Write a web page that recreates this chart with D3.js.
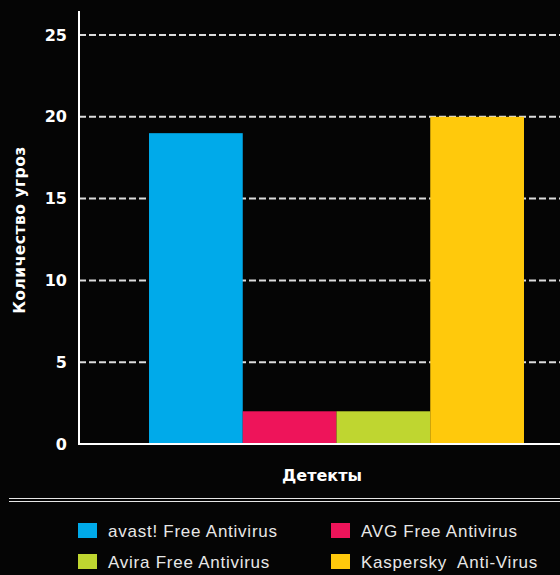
<!DOCTYPE html>
<html>
<head>
<meta charset="utf-8">
<script src="https://cdn.jsdelivr.net/npm/d3@7"></script>
<style>
  html, body { margin: 0; padding: 0; background: #050505; }
  svg { display: block; font-family: "Liberation Sans", Arial, Helvetica, sans-serif; }
</style>
</head>
<body>
<svg id="chart" width="560" height="575"></svg>
<script>
// Threats detected per antivirus product
const category = ["Детекты"];
const products = ["avast! Free Antivirus", "AVG Free Antivirus", "Avira Free Antivirus", "Kaspersky  Anti-Virus"];
const detections = [19, 2, 2, 20];
const colors = ["#00aaea", "#ee145a", "#bfd630", "#ffc90c"];
const yTicks = [0, 5, 10, 15, 20, 25];
const yTitle = "Количество угроз";

const W = 560, H = 575;
const boldFont = "DejaVu Sans, Verdana, sans-serif";
const svg = d3.select("#chart");
svg.append("rect").attr("width", W).attr("height", H).attr("fill", "#050505");

const plotLeft = 79, plotRight = 594, plotTop = 11, plotBottom = 444;

const x0 = d3.scaleBand().domain(category).range([plotLeft, plotRight]).paddingInner(0).paddingOuter(0.1867);
const x1 = d3.scaleBand().domain(products).range([0, x0.bandwidth()]).padding(0);
const y = d3.scaleLinear().domain([0, 25]).range([plotBottom, plotBottom - 409]);

// dashed gridlines
svg.append("g").selectAll("line").data(yTicks.filter(t => t > 0)).join("line")
  .attr("x1", plotLeft).attr("x2", W)
  .attr("y1", d => y(d)).attr("y2", d => y(d))
  .attr("stroke", "#dcdcdc").attr("stroke-width", 2)
  .attr("stroke-dasharray", "7,3");

// bars
const g = svg.append("g").attr("transform", `translate(${x0(category[0])},0)`);
g.selectAll("rect").data(products).join("rect")
  .attr("x", d => x1(d))
  .attr("width", x1.bandwidth())
  .attr("y", (d, i) => y(detections[i]))
  .attr("height", (d, i) => y(0) - y(detections[i]))
  .attr("fill", (d, i) => colors[i]);

// y axis
const yAxis = d3.axisLeft(y).tickValues(yTicks).tickSize(0).tickPadding(12);
const ya = svg.append("g").attr("transform", `translate(${plotLeft},0)`).call(yAxis);
ya.select(".domain").remove();
ya.selectAll("text").attr("fill", "#ffffff").attr("font-size", 16).attr("font-weight", "bold")
  .attr("font-family", boldFont);

svg.append("line").attr("x1", plotLeft).attr("x2", plotLeft).attr("y1", plotTop).attr("y2", plotBottom + 1)
  .attr("stroke", "#ffffff").attr("stroke-width", 2);
svg.append("line").attr("x1", plotLeft - 1).attr("x2", W).attr("y1", plotBottom).attr("y2", plotBottom)
  .attr("stroke", "#ffffff").attr("stroke-width", 2);

// axis titles
svg.append("text").attr("transform", `translate(25,230) rotate(-90)`)
  .attr("text-anchor", "middle").attr("fill", "#ffffff").attr("font-family", boldFont)
  .attr("font-size", 15.5).attr("letter-spacing", 0.5).attr("font-weight", "bold").text(yTitle);
svg.append("text").attr("x", 322).attr("y", 481)
  .attr("text-anchor", "middle").attr("fill", "#ffffff").attr("font-family", boldFont)
  .attr("font-size", 16).attr("font-weight", "bold").text(category[0]);

// separator
[498.5, 501.5].forEach(yy => {
  svg.append("line").attr("x1", 9).attr("x2", W).attr("y1", yy).attr("y2", yy)
    .attr("stroke", "#e6e6e6").attr("stroke-width", 1);
});

// legend
const legend = svg.append("g").selectAll("g").data(products).join("g")
  .attr("transform", (d, i) => `translate(${i % 2 === 0 ? 78 : 331},${i < 2 ? 523 : 554})`);
legend.append("rect").attr("width", 19).attr("height", 15).attr("fill", (d, i) => colors[i]);
legend.append("text").attr("x", 30).attr("y", 14).attr("fill", "#e8e8e8")
  .attr("font-size", 17).attr("letter-spacing", 0.75)
  .style("white-space", "pre").text(d => d);
</script>
</body>
</html>
